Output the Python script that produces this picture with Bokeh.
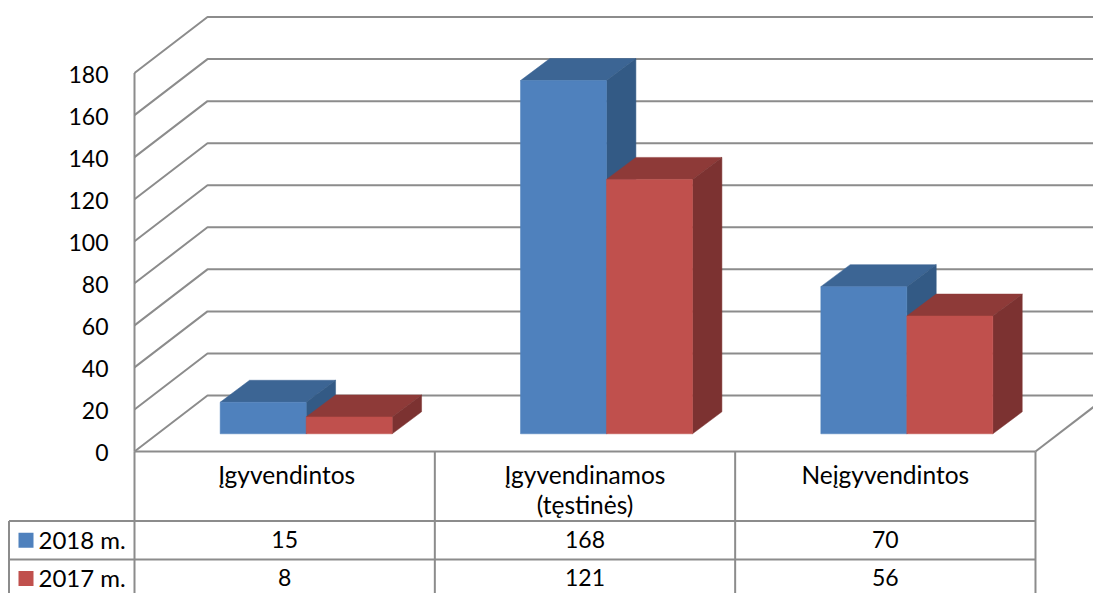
from bokeh.plotting import figure
from bokeh.embed import file_html
from bokeh.resources import INLINE
from bokeh.core.properties import value
from bokeh.models import Range1d

categories = ["Įgyvendintos", "Įgyvendinamos\n(tęstinės)", "Neįgyvendintos"]
series_names = ["2018 m.", "2017 m."]
values_2018 = [15, 168, 70]
values_2017 = [8, 121, 56]
y_ticks = [0, 20, 40, 60, 80, 100, 120, 140, 160, 180]

COLORS = [
    {"front": "#4F81BD", "top": "#3C6594", "side": "#335A85"},
    {"front": "#C0504D", "top": "#8E3A38", "side": "#7C3231"},
]
GRID = "#8C8C8C"
FONT = "Lato"
FS_WORD = "24.5px"
FS_NUM = "23px"
FS_KEY = "24px"

# scale: one category and one value unit expressed in page pixels
PX_X = 300.33
PX_Y = 2.1025
X0, Y0 = 134.0, 451.0
FIG_W, FIG_H = 1093, 593    # right and bottom edge exactly at the window's edge


def X(px):
    return (px - X0) / PX_X


def Y(py):
    return (Y0 - py) / PX_Y


WALL_DX, WALL_DY = 73 / PX_X, 56 / PX_Y          # depth of the floor
BAR_W = 86 / PX_X                                # bar width
BAR_DX, BAR_DY = 29.4 / PX_X, 22 / PX_Y          # depth of a bar
BASE_DX, BASE_DY = 21.5 / PX_X, 17.7 / PX_Y      # bar position on the floor

p = figure(
    width=FIG_W, height=FIG_H, output_backend="svg", toolbar_location=None,
    x_range=Range1d(X(0), X(FIG_W)), y_range=Range1d(Y(FIG_H), Y(0)),
    min_border=0, outline_line_color=None, background_fill_color="white",
    border_fill_color="white",
)
p.axis.visible = False
p.grid.visible = False

n_cat = len(categories)

# gridlines on the side and the back wall
wall_x, wall_y = [], []
for t in y_ticks:
    wall_x.append([0, WALL_DX, n_cat + WALL_DX])
    wall_y.append([t, t + WALL_DY, t + WALL_DY])
p.multi_line(wall_x, wall_y, line_color=GRID, line_width=2)

# floor edge at the right, front axis line
p.line([n_cat, n_cat + WALL_DX], [0, WALL_DY], line_color=GRID, line_width=2)
p.line([0, 0], [0, y_ticks[-1]], line_color=GRID, line_width=2)

# bars
for s, vals in enumerate([values_2018, values_2017]):
    c = COLORS[s]
    for i, v in enumerate(vals):
        x0 = i + 0.5 + BASE_DX - BAR_W + s * BAR_W
        x1 = x0 + BAR_W
        y0 = BASE_DY
        y1 = y0 + v
        p.patch([x0, x1, x1 + BAR_DX, x0 + BAR_DX], [y1, y1, y1 + BAR_DY, y1 + BAR_DY],
                fill_color=c["top"], line_color=c["top"], line_width=0.5)
        p.patch([x1, x1 + BAR_DX, x1 + BAR_DX, x1], [y0, y0 + BAR_DY, y1 + BAR_DY, y1],
                fill_color=c["side"], line_color=c["side"], line_width=0.5)
        p.quad(left=x0, right=x1, bottom=y0, top=y1,
               fill_color=c["front"], line_color=c["front"], line_width=0.5)

# y tick labels
p.text(x=[X(108)] * len(y_ticks), y=y_ticks, text=[str(t) for t in y_ticks],
       text_align="right", text_baseline="middle", y_offset=1,
       text_font=value(FONT), text_font_size=FS_NUM, text_color="black")

# data table grid
row_tops = [Y(451), Y(520.5), Y(559), Y(597)]
p.multi_line([[0, n_cat]] * 1 + [[X(8.5), n_cat]] * 3,
             [[row_tops[0]] * 2, [row_tops[1]] * 2, [row_tops[2]] * 2, [row_tops[3]] * 2],
             line_color=GRID, line_width=2)
p.multi_line([[i, i] for i in range(n_cat + 1)] + [[X(8.5), X(8.5)]],
             [[row_tops[0], row_tops[3]]] * (n_cat + 1) + [[row_tops[1], row_tops[3]]],
             line_color=GRID, line_width=2)

# category labels
label_nudge = [2, 0, 0]
for i, cat in enumerate(categories):
    for k, part in enumerate(cat.split("\n")):
        p.text(x=[i + 0.5 + label_nudge[i] / PX_X], y=[Y(474 + 30 * k)], text=[part],
               text_align="center", text_baseline="middle",
               text_font=value(FONT), text_font_size=FS_WORD, text_color="black")

# table values and legend keys
for s, (name, vals) in enumerate(zip(series_names, [values_2018, values_2017])):
    yc = (row_tops[s + 1] + row_tops[s + 2]) / 2
    p.quad(left=X(18), right=X(33), bottom=yc - 7.5 / PX_Y, top=yc + 7.5 / PX_Y,
           fill_color=COLORS[s]["front"], line_color=None)
    p.text(x=[X(38)], y=[yc], text=[name], text_align="left", text_baseline="middle",
           y_offset=-1, text_font=value(FONT), text_font_size=FS_KEY, text_color="black")
    p.text(x=[i + 0.5 for i in range(n_cat)], y=[yc] * n_cat, text=[str(v) for v in vals],
           text_align="center", text_baseline="middle", y_offset=-1,
           text_font=value(FONT), text_font_size=FS_NUM, text_color="black")

open("out.html", "w").write(file_html(p, INLINE))
